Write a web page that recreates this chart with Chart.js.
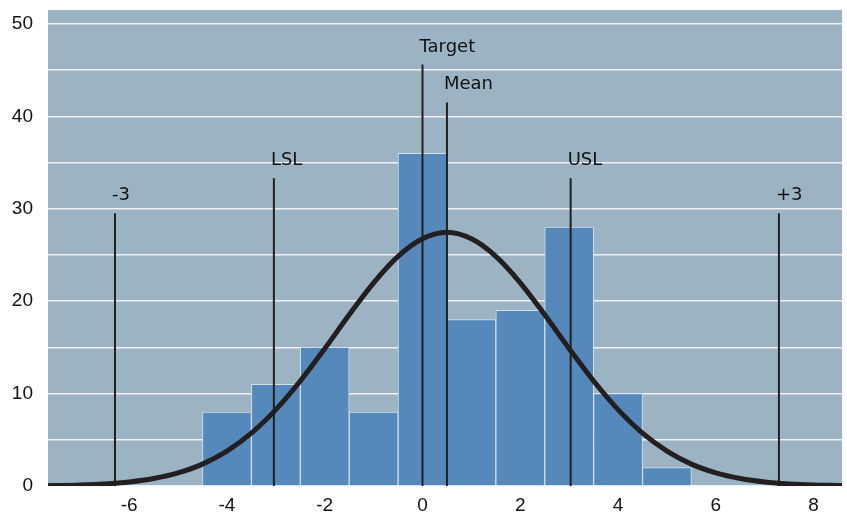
<!DOCTYPE html>
<html>
<head>
<meta charset="utf-8">
<script src="https://cdn.jsdelivr.net/npm/chart.js@4/dist/chart.umd.min.js"></script>
<style>
  html, body { margin: 0; padding: 0; background: #ffffff; }
  #wrap { width: 847px; height: 513px; }
</style>
</head>
<body>
<div id="wrap"><canvas id="chart" width="847" height="513"></canvas></div>
<script>
// histogram bins (centres) and counts
const binCentres = [-4, -3, -2, -1, 0, 1, 2, 3, 4, 5];
const binCounts  = [8, 11, 15, 8, 36, 18, 19, 28, 10, 2];

// fitted curve
const curveX = [-7.66, -7.5, -7, -6.5, -6, -5.5, -5, -4.5, -4, -3.5, -3, -2.5, -2, -1.5, -1, -0.5,
                0, 0.5, 1, 1.5, 2, 2.5, 3, 3.5, 4, 4.5, 5, 5.5, 6, 6.5, 7, 7.5, 8, 8.5, 8.58];
const curveY = [0.04, 0.05, 0.11, 0.23, 0.44, 0.81, 1.42, 2.37, 3.78, 5.72, 8.26, 11.36, 14.86, 18.52, 21.98, 24.84,
                26.74, 27.45, 26.74, 24.84, 21.98, 18.52, 14.86, 11.36, 8.26, 5.72, 3.78, 2.37, 1.42, 0.81, 0.44, 0.23, 0.11, 0.05, 0.04];

// vertical reference lines
const refLabels = ['-3', 'LSL', 'Target', 'Mean', 'USL', '+3'];
const refX      = [-6.29, -3.04, 0, 0.5, 3.03, 7.29];
const refTop    = [29.5, 33.3, 45.6, 41.5, 33.3, 29.5];

const xTicks = [-6, -4, -2, 0, 2, 4, 6, 8];
const yGrid  = [0, 5, 10, 15, 20, 25, 30, 35, 40, 45, 50];

const Colors = {
    plotBg: '#9cb3c3',
    bar: '#5589bb',
    barEdge: '#d3dee8',
    grid: '#eef2f5',
    ink: '#231f20',
    text: '#111111',
};
const FONT = '"Liberation Sans", Arial, Helvetica, sans-serif';
const LABEL_FONT = '"DejaVu Sans", "Liberation Sans", sans-serif';

const plotBackground = {
    id: 'plotBackground',
    beforeDraw(chart) {
        const { ctx, chartArea: a } = chart;
        ctx.save();
        ctx.fillStyle = Colors.plotBg;
        ctx.fillRect(a.left, a.top, a.right - a.left, a.bottom - a.top);
        ctx.restore();
    },
};

const refLabelPlugin = {
    id: 'refLabels',
    afterDatasetsDraw(chart) {
        const { ctx } = chart;
        const xs = chart.scales.x, ys = chart.scales.y;
        ctx.save();
        ctx.font = '18px ' + LABEL_FONT;
        ctx.fillStyle = Colors.text;
        ctx.textAlign = 'left';
        ctx.textBaseline = 'alphabetic';
        refLabels.forEach((lab, i) => {
            ctx.fillText(lab, xs.getPixelForValue(refX[i]) - 3, ys.getPixelForValue(refTop[i]) - 13);
        });
        ctx.restore();
    },
};

const refDatasets = refLabels.map((lab, i) => ({
    type: 'line',
    label: lab,
    data: [{ x: refX[i], y: 0 }, { x: refX[i], y: refTop[i] }],
    borderColor: Colors.ink,
    borderWidth: 2,
    pointRadius: 0,
    order: 2,
}));

// no auto padding from tick labels
const noPad = (s) => { s.paddingTop = 0; s.paddingBottom = 0; s.paddingLeft = 0; s.paddingRight = 0; };

new Chart(document.getElementById('chart'), {
    type: 'bar',
    data: {
        datasets: [
            {
                label: 'Count',
                data: binCentres.map((c, i) => ({ x: c, y: binCounts[i] })),
                backgroundColor: Colors.bar,
                borderColor: Colors.barEdge,
                borderWidth: 1,
                barPercentage: 1,
                categoryPercentage: 1,
                order: 3,
            },
            ...refDatasets,
            {
                type: 'line',
                label: 'Normal',
                data: curveX.map((x, i) => ({ x, y: curveY[i] })),
                borderColor: Colors.ink,
                borderWidth: 5,
                pointRadius: 0,
                cubicInterpolationMode: 'monotone',
                order: 1,
            },
        ],
    },
    options: {
        responsive: false,
        animation: false,
        devicePixelRatio: 1,
        layout: { autoPadding: false, padding: { top: 10, right: 5, left: 0, bottom: 0 } },
        plugins: {
            legend: { display: false },
            title: { display: false },
            tooltip: { enabled: false },
        },
        scales: {
            x: {
                type: 'linear',
                bounds: 'data',
                min: -7.66,
                max: 8.58,
                offset: false,
                afterBuildTicks: (s) => { s.ticks = xTicks.map(v => ({ value: v })); },
                afterFit: (s) => { s.height = 27; noPad(s); },
                grid: { display: false, drawTicks: false, offset: false },
                border: { display: false },
                ticks: {
                    padding: 8,
                    color: Colors.text,
                    font: { family: FONT, size: 19 },
                },
            },
            y: {
                bounds: 'data',
                min: 0,
                max: 51.5,
                afterBuildTicks: (s) => { s.ticks = yGrid.map(v => ({ value: v })); },
                afterFit: (s) => { s.width = 48; noPad(s); },
                grid: { color: Colors.grid, lineWidth: 1.5, drawTicks: false },
                border: { display: false },
                ticks: {
                    padding: 15,
                    color: Colors.text,
                    font: { family: FONT, size: 19 },
                    callback: (v) => (v % 10 === 0 ? String(v) : ''),
                },
            },
        },
    },
    plugins: [plotBackground, refLabelPlugin],
});
</script>
</body>
</html>
